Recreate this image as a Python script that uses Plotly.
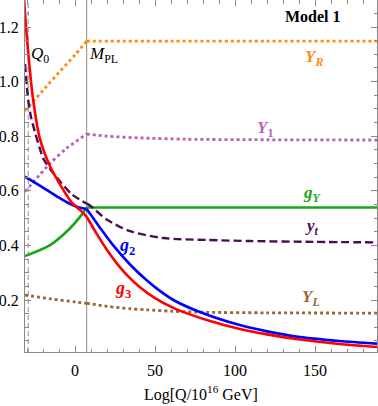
import plotly.graph_objects as go

# ---------------- data ----------------
M_PL = 7.3          # Planck-scale threshold (vertical line)
Q_0 = -29.2         # starting scale (dashed line)
X_RANGE = [-31.25, 188.75]
Y_RANGE = [0.0095, 1.299]

x_ticks = [0, 50, 100, 150]
y_ticks = [0.2, 0.4, 0.6, 0.8, 1.0, 1.2]

YR_x = [-31.25, -20, -10, 0, 7.3, 60, 120, 188.75]
YR_y = [0.893, 0.968, 1.034, 1.098, 1.148, 1.148, 1.148, 1.148]

Y1_x = [-31.25, -15.6, -5.2, 7.3, 20, 40, 70, 120, 188.75]
Y1_y = [0.597, 0.700, 0.756, 0.808, 0.800, 0.794, 0.789, 0.787, 0.786]

gY_x = [-31.25, -15.6, -3.1, 4, 7.3, 60, 120, 188.75]
gY_y = [0.361, 0.401, 0.463, 0.511, 0.539, 0.539, 0.539, 0.539]

yt_x = [-31.25, -29.2, -27.5, -25, -22, -19.8, -15, -10.4, -2.1, 7.3,
        9.4, 19.8, 34.4, 55.2, 82.3, 110, 148.8, 188.75]
yt_y = [1.065, 0.930, 0.870, 0.815, 0.755, 0.718, 0.675, 0.642, 0.588, 0.553,
        0.546, 0.495, 0.452, 0.427, 0.420, 0.416, 0.413, 0.411]

YL_x = [-31.25, -15, 0, 7.3, 20, 34.4, 44.8, 60, 82, 120, 188.75]
YL_y = [0.218, 0.204, 0.193, 0.188, 0.177, 0.168, 0.164, 0.159, 0.155, 0.153, 0.152]

g2_x = [-31.25, -20, -10, -3.1, 2, 7.3, 15.6, 23.9, 34.4, 44.8, 52, 61.5,
        78, 103, 120, 140.6, 165, 188.75]
g2_y = [0.652, 0.612, 0.575, 0.552, 0.540, 0.533, 0.465, 0.400, 0.330, 0.272,
        0.238, 0.200, 0.156, 0.108, 0.085, 0.064, 0.050, 0.040]

g3_x = [-32.5, -31.25, -29.6, -26.3, -21.9, -15.6, -8, -1.9, 3, 7.3, 13.5,
        19.8, 26, 32.3, 40.6, 50, 61.5, 70, 82.3, 103, 120, 140.6, 165, 188.75]
g3_y = [1.36, 1.25, 1.13, 0.94, 0.79, 0.69, 0.61, 0.556, 0.530, 0.505, 0.443,
        0.385, 0.335, 0.292, 0.247, 0.207, 0.171, 0.151, 0.127, 0.094, 0.074,
        0.055, 0.039, 0.028]

# ---------------- styles ----------------
FONT = "Liberation Serif"
series = [
    (YR_x, YR_y, "#FF8A10", "3px,3px", 2.8),
    (Y1_x, Y1_y, "#B562B8", "3px,3px", 2.8),
    (gY_x, gY_y, "#1AA51A", "solid", 2.6),
    (yt_x, yt_y, "#4A0C55", "8px,4px", 2.4),
    (YL_x, YL_y, "#9A6633", "3px,3px", 2.8),
    (g2_x, g2_y, "#0000FF", "solid", 2.6),
    (g3_x, g3_y, "#FF0000", "solid", 2.6),
]

fig = go.Figure()
for xs, ys, col, dash, w in series:
    pts = list(zip(xs, ys))
    before = [p for p in pts if p[0] <= M_PL]
    after = [p for p in pts if p[0] >= M_PL]
    for seg in (before, after):
        if len(seg) > 1:
            fig.add_trace(go.Scatter(
                x=[p[0] for p in seg], y=[p[1] for p in seg], mode="lines",
                line=dict(color=col, dash=dash, width=w, shape="spline", smoothing=0.8),
                showlegend=False, hoverinfo="skip"))

# vertical reference lines
fig.add_shape(type="line", x0=M_PL, x1=M_PL, y0=0, y1=1, xref="x", yref="paper",
              line=dict(color="#8a8a8a", width=1), layer="below")
fig.add_shape(type="line", x0=Q_0, x1=Q_0, y0=0, y1=1, xref="x", yref="paper",
              line=dict(color="#b0b0b0", width=1.4, dash="5px,3px"), layer="below")

# labels
labels = [
    (-21.9, 1.097, "<i>Q</i><sub>0</sub>", "black", 17),
    (17.5, 1.097, "<i>M</i><sub>PL</sub>", "black", 17),
    (148.75, 1.237, "<b>Model 1</b>", "black", 16),
    (149.4, 1.088, "<b><i>Y<sub>R</sub></i></b>", "#FF8A10", 17),
    (119.0, 0.828, "<b><i>Y</i><sub>1</sub></b>", "#B562B8", 17),
    (148.4, 0.590, "<b><i>g<sub>Y</sub></i></b>", "#1AA51A", 17),
    (148.1, 0.466, "<b><i>y<sub>t</sub></i></b>", "#4A0C55", 17),
    (147.5, 0.209, "<b><i>Y<sub>L</sub></i></b>", "#9A6633", 17),
    (32.2, 0.396, "<b><i>g</i><sub>2</sub></b>", "#0000FF", 18),
    (29.7, 0.239, "<b><i>g</i><sub>3</sub></b>", "#FF0000", 18),
]
for x, y, t, c, s in labels:
    fig.add_annotation(x=x, y=y, text=t, showarrow=False, xanchor="center",
                       yanchor="middle", font=dict(family=FONT, size=s, color=c))

fig.add_annotation(x=0.5, y=-0.117, xref="paper", yref="paper",
                   text="Log[Q/10<sup>16</sup> GeV]", showarrow=False,
                   xanchor="center", yanchor="middle",
                   font=dict(family=FONT, size=16, color="black"))

axis_common = dict(showgrid=False, zeroline=False, showline=True, linecolor="#888888",
                   linewidth=1, mirror="allticks", ticks="inside", ticklen=6,
                   tickcolor="#888888", tickwidth=1,
                   tickfont=dict(family=FONT, size=16, color="black"))

fig.update_xaxes(range=X_RANGE, tickvals=x_ticks, ticktext=[str(v) for v in x_ticks],
                 minor=dict(dtick=10, tick0=0, ticks="inside", ticklen=3.5,
                            tickcolor="#888888"),
                 ticklabelstandoff=4, **axis_common)
fig.update_yaxes(range=Y_RANGE, tickvals=y_ticks, ticktext=[f"{v:.1f}" for v in y_ticks],
                 minor=dict(dtick=0.05, tick0=0, ticks="inside", ticklen=3.5,
                            tickcolor="#888888"),
                 ticklabelstandoff=2, **axis_common)

fig.update_layout(width=378, height=406, margin=dict(l=25, r=1, t=0, b=54),
                  plot_bgcolor="white", paper_bgcolor="white",
                  font=dict(family=FONT))

fig.write_html("out.html", config={"displayModeBar": False, "staticPlot": True},
               post_script="document.body.style.margin='0';"
                           "document.body.style.overflow='hidden';")
